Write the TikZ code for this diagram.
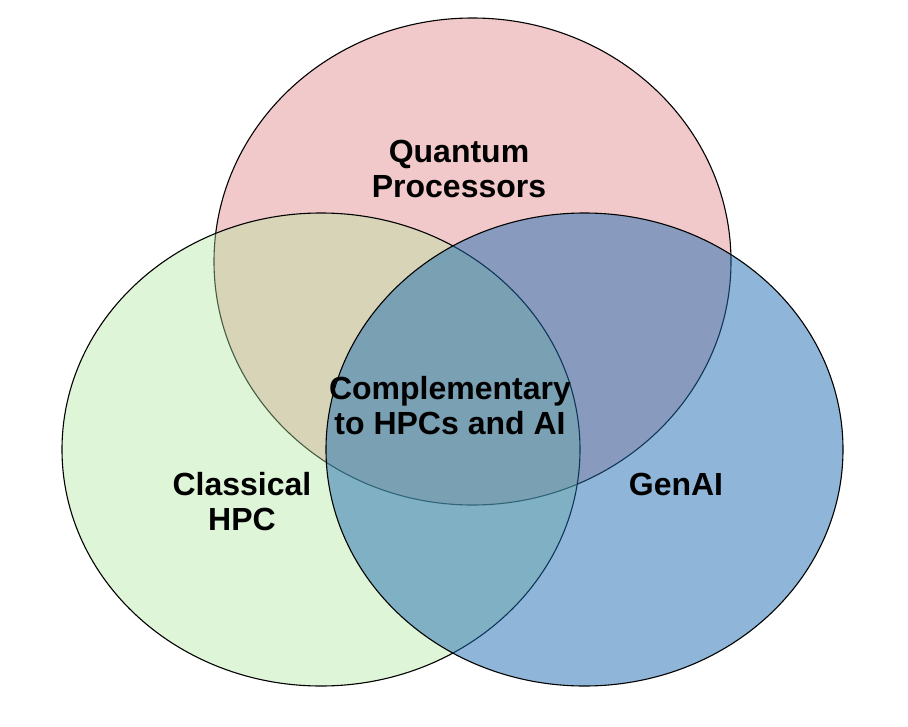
\documentclass[tikz,border=0pt]{standalone}
\usepackage{fontspec}
\setmainfont{Liberation Sans}
\begin{document}
\begin{tikzpicture}[x=1pt,y=-1pt,
  setbox/.style={draw=black, line width=1.1pt},
  setlabel/.style={align=center, inner sep=0pt,
    font=\fontsize{32}{35}\selectfont\bfseries},
]
\definecolor{quantumfill}{RGB}{242,201,202}
\definecolor{classicfill}{RGB}{175,230,158}
\definecolor{genaifill}{RGB}{31,109,177}
\useasboundingbox (0,0) rectangle (908,726);
% the three sets, drawn back to front
\path[setbox, fill=quantumfill] (472.5,261.5) ellipse [x radius=258.5, y radius=243.5];
\path[setbox, fill=classicfill, fill opacity=0.4] (321,449.5) ellipse [x radius=259, y radius=236.5];
\path[setbox, fill=genaifill, fill opacity=0.5] (584.5,449.5) ellipse [x radius=258.5, y radius=236.5];
% labels
\node[setlabel] (quantum) at (459,169) {Quantum\\Processors};
\node[setlabel] (center) at (450,405.5) {Complementary\\to HPCs and AI};
\node[setlabel] (classical) at (242,501.5) {Classical\\HPC};
\node[setlabel] (genai) at (676,484) {GenAI};
\end{tikzpicture}
\end{document}
